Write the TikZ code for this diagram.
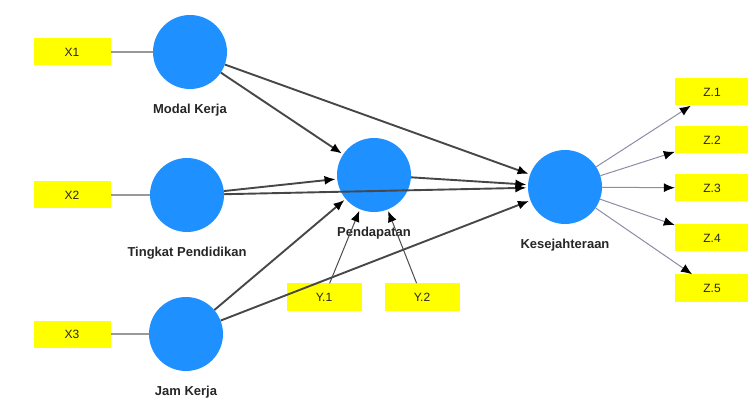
\documentclass[tikz,border=0pt]{standalone}
\usepackage{fontspec}
\setmainfont{Liberation Sans}
\usetikzlibrary{positioning,arrows.meta}
\definecolor{lvblue}{RGB}{30,144,255}
\definecolor{indyellow}{RGB}{255,255,0}
\definecolor{loadgrey}{RGB}{140,140,165}

\begin{document}
\begin{tikzpicture}[x=1pt, y=-1pt, >={Latex[length=11pt,width=9pt,color=black]},
  latent/.style={circle, fill=lvblue, minimum size=74pt, inner sep=0pt},
  ind/.style={fill=indyellow, minimum width=75pt, minimum height=27pt, inner sep=0pt, text=black!85, font=\fontsize{12}{14}\selectfont},
  lbl/.style={inner sep=0pt, text=black!85, font=\fontsize{13}{15}\selectfont\bfseries},
  refl/.style={draw=black!40, line width=1.5pt},
  struct/.style={->, shorten >=1.5pt, draw=black!72, line width=1.9pt},
  loading/.style={->, draw=loadgrey, line width=1pt}]
  \useasboundingbox (0,0) rectangle (748,401);
  % latent variables
  \node[latent] (mk) at (190,52) {};
  \node[latent] (tp) at (187,195) {};
  \node[latent] (jk) at (186,334) {};
  \node[latent] (pd) at (374,175) {};
  \node[latent] (ks) at (565,187) {};
  \node[lbl, below=15pt of mk] (mkl) {Modal Kerja};
  \node[lbl, below=15pt of tp] (tpl) {Tingkat Pendidikan};
  \node[lbl, below=15pt of jk] (jkl) {Jam Kerja};
  \node[lbl, below=15pt of pd] (pdl) {Pendapatan};
  \node[lbl, below=15pt of ks] (ksl) {Kesejahteraan};
  % indicators
  \node[ind, minimum width=77pt] (x1) at (72,52) {X1};
  \node[ind, minimum width=77pt] (x2) at (72,195) {X2};
  \node[ind, minimum width=77pt] (x3) at (72,334) {X3};
  \node[ind] (y1) at (324,297) {Y.1};
  \node[ind] (y2) at (422,297) {Y.2};
  \draw[refl] (x1) -- (mk);
  \draw[refl] (x2) -- (tp);
  \draw[refl] (x3) -- (jk);
  \draw[->, shorten >=1.5pt, draw=black!70, line width=1pt] (y1) -- (pd);
  \draw[->, shorten >=1.5pt, draw=black!70, line width=1pt] (y2) -- (pd);
  \foreach \i/\y in {1/92,2/140,3/188,4/238,5/288} {
    \node[ind, minimum width=74pt] (z\i) at (712,\y) {Z.\i};
    \draw[loading] (ks) -- (z\i);
  }
  % paths
  \draw[struct] (mk) -- (pd);
  \draw[struct] (tp) -- (pd);
  \draw[struct] (jk) -- (pd);
  \draw[struct] (mk) -- (ks);
  \draw[struct] (tp) -- (ks);
  \draw[struct] (jk) -- (ks);
  \draw[struct] (pd) -- (ks);
\end{tikzpicture}
\end{document}
